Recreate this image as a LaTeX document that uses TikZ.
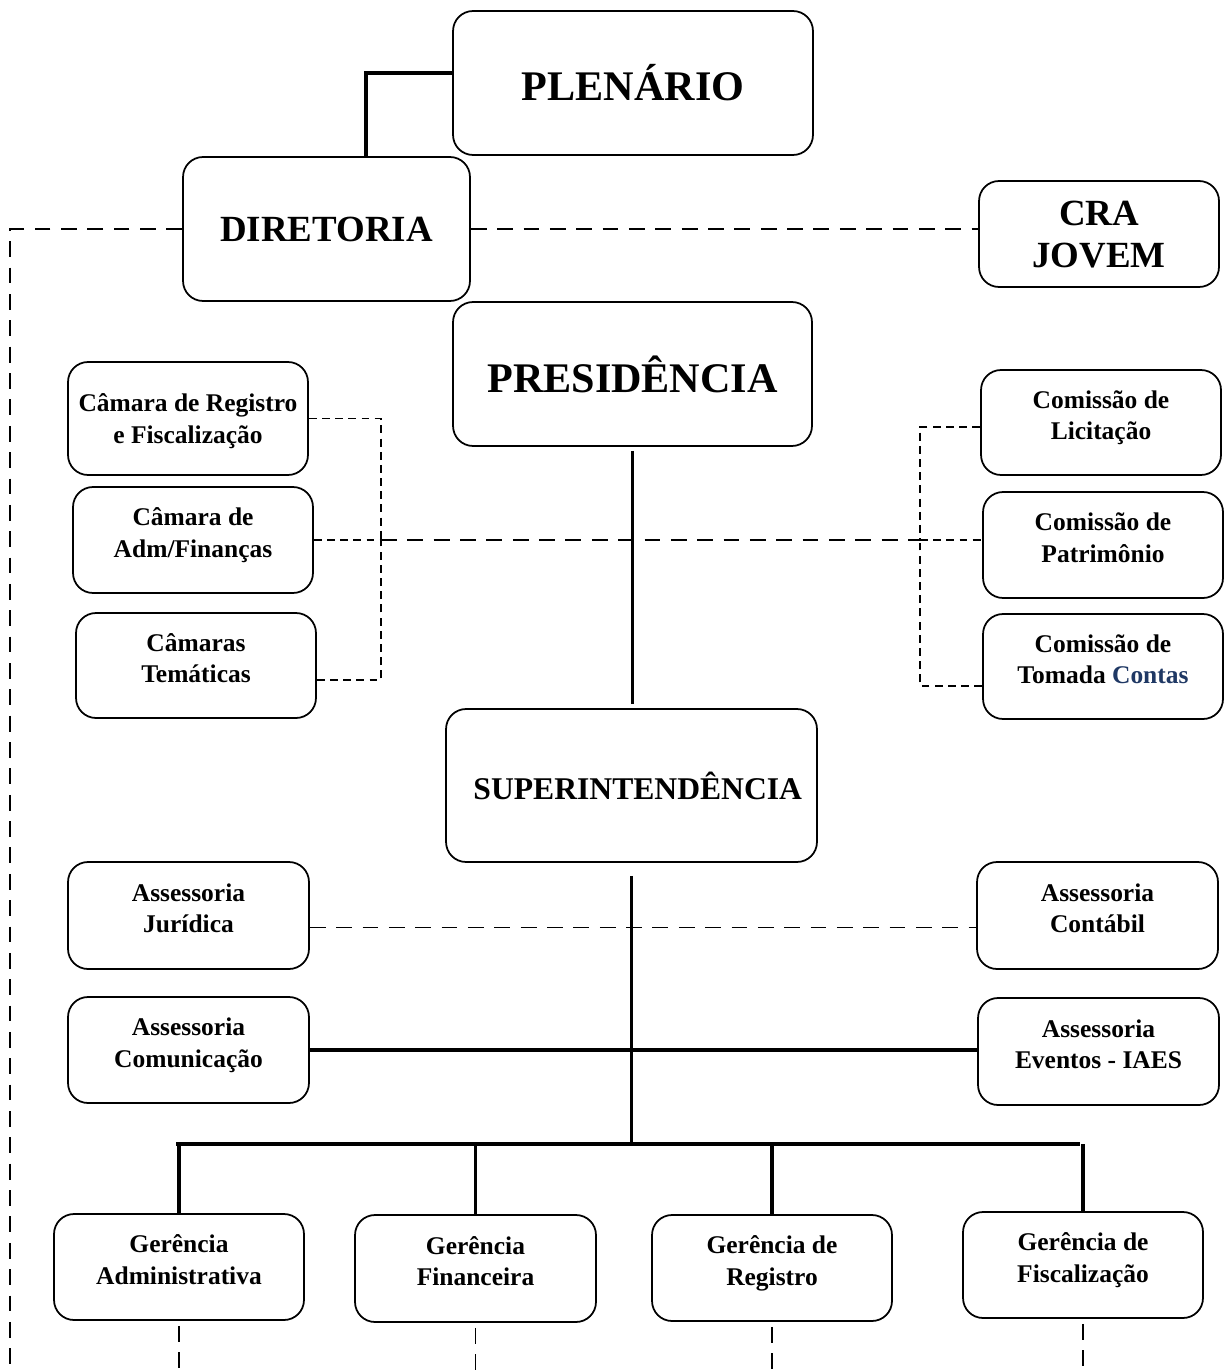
\documentclass[tikz,border=0pt]{standalone}
\usepackage{fontspec}
\setmainfont{Liberation Serif}
\definecolor{contasblue}{RGB}{31,56,100}

\begin{document}
\begin{tikzpicture}[x=0.02cm, y=-0.02cm,
      font=\bfseries\fontsize{14.5}{17.8}\selectfont,
      unit/.style={draw=black, line width=1pt, rounded corners=0.4cm,
                   align=center, inner sep=0pt},
      small/.style={unit, minimum width=4.8cm, minimum height=2.12cm,
                    text depth=8.5pt},
      big/.style={unit, minimum width=7.2cm, minimum height=2.88cm,
                  font=\bfseries\fontsize{24}{28}\selectfont},
      link/.style={line width=1.8pt},
      bus/.style={line width=2.4pt},
      advise/.style={line width=1.1pt, dash pattern=on 9pt off 6pt},
      group/.style={line width=1.1pt, dash pattern=on 4.5pt off 3pt},
    ]
    \useasboundingbox (0,0) rectangle (1224,1371);

    % Top: plenario, diretoria, CRA jovem
    \node[big] (plenario) at (633,83) {PLENÁRIO};
    \node[big, minimum width=5.74cm,
          font=\bfseries\fontsize{21}{24}\selectfont] (diretoria) at (326.5,229) {DIRETORIA};
    \node[unit, minimum width=4.8cm, minimum height=2.12cm, text depth=-9pt,
          font=\bfseries\fontsize{21}{24}\selectfont] (crajovem) at (1099,234) {CRA\\JOVEM};
    \node[big, minimum width=7.18cm] (presidencia) at (632.5,374) {PRESIDÊNCIA};
    \node[big, minimum width=7.42cm, minimum height=3.06cm,
          font=\bfseries\fontsize{18}{22}\selectfont] (superint) at (631.5,785.5) {\hspace*{0.25cm}SUPERINTENDÊNCIA};

    % Camaras (left)
    \node[small, minimum height=2.26cm, text depth=0pt] (camreg) at (188,418.5) {Câmara de Registro\\e Fiscalização};
    \node[small] (camadm) at (193,540) {Câmara de\\Adm/Finanças};
    \node[small, minimum height=2.1cm] (camtem) at (196,665.5) {Câmaras\\Temáticas};

    % Comissoes (right)
    \node[small, minimum height=2.1cm] (comlic) at (1101,422.5) {Comissão de\\Licitação};
    \node[small] (compat) at (1103,545) {Comissão de\\Patrimônio};
    \node[small, minimum height=2.1cm] (comtom) at (1103,666.5) {Comissão de\\Tomada \textcolor{contasblue}{Contas}};

    % Assessorias
    \node[small, minimum width=4.82cm, minimum height=2.14cm] (assjur) at (188.5,915.5) {Assessoria\\Jurídica};
    \node[small, minimum width=4.82cm, minimum height=2.14cm] (asscont) at (1097.5,915.5) {Assessoria\\Contábil};
    \node[small, minimum width=4.82cm] (asscom) at (188.5,1050) {Assessoria\\Comunicação};
    \node[small, minimum width=4.82cm, minimum height=2.14cm] (assev) at (1098.5,1051.5) {Assessoria\\Eventos - IAES};

    % Gerencias
    \node[small, minimum width=5cm] (geradm) at (179,1267) {Gerência\\Administrativa};
    \node[small, minimum width=4.82cm, minimum height=2.14cm] (gerfin) at (475.5,1268.5) {Gerência\\Financeira};
    \node[small] (gerreg) at (772,1268) {Gerência de\\Registro};
    \node[small] (gerfis) at (1083,1265) {Gerência de\\Fiscalização};

    \coordinate (leftfoot) at (10,1371);
    \coordinate (camjoin) at (381,540);
    \coordinate (comjoin) at (920,540);
    \coordinate (busL) at (176,1144);
    \coordinate (busR) at (1080,1144);

    % Plenario -- diretoria
    \draw[link] ([yshift=0.2cm]plenario.west) -| ([xshift=0.79cm]diretoria.north);

    % Diretoria dashed links
    \draw[advise] (diretoria.west) -| (leftfoot);
    \draw[advise] (diretoria.east) -- (diretoria.east -| crajovem.west);

    % Presidencia -- superintendencia
    \draw[link, shorten <=0.08cm, shorten >=0.08cm]
      (presidencia.south) -- (presidencia.south |- superint.north);

    % Camaras bracket
    \draw[group] (camreg.east) -| (camjoin);
    \draw[group] ([yshift=-0.29cm]camtem.east) -| (camjoin);
    \draw[group] (camadm.east) -- (camjoin);
    \draw[advise] (camjoin) -- (comjoin);

    % Comissoes bracket
    \draw[group] ([yshift=-0.09cm]comlic.west) -| (comjoin);
    \draw[group] ([yshift=-0.39cm]comtom.west) -| (comjoin);
    \draw[group] (comjoin) -- (comjoin -| compat.west);

    % Superintendencia down to the bus
    \draw[link, shorten <=0.26cm] (superint.south) -- (superint.south |- busL);
    \draw[advise] ([yshift=-0.24cm]assjur.east) -- ([yshift=-0.24cm]assjur.east -| asscont.west);
    \draw[link] (asscom.east) -- (asscom.east -| assev.west);
    \draw[bus] (busL) -- (busR);

    % Gerencias
    \foreach \g in {geradm, gerfin, gerreg, gerfis} {
      \draw[link] (\g.north |- busL) -- (\g.north);
      \draw[advise, shorten <=0.1cm] (\g.south) -- (\g.south |- leftfoot);
    }

  \end{tikzpicture}
\end{document}
